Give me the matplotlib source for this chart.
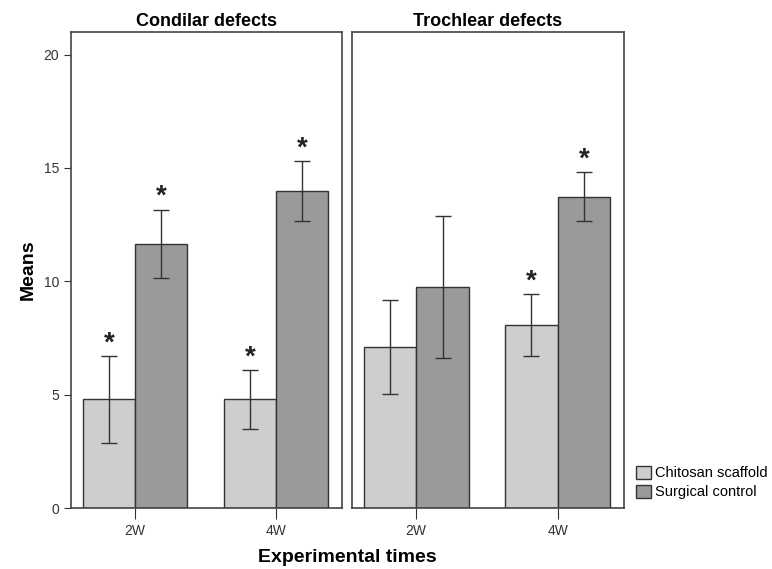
import matplotlib.pyplot as plt
import numpy as np

plt.rcParams['font.family'] = ['Liberation Sans', 'DejaVu Sans']

panels = ["Condilar defects", "Trochlear defects"]
times = ["2W", "4W"]
groups = ["Chitosan scaffold", "Surgical control"]

# means[panel][group][time]
means = [
    [[4.8, 4.8], [11.66, 14.0]],
    [[7.1, 8.08], [9.77, 13.73]],
]
err_low = [
    [[2.87, 3.49], [10.16, 12.67]],
    [[5.03, 6.71], [6.62, 12.67]],
]
err_high = [
    [[6.71, 6.09], [13.16, 15.32]],
    [[9.18, 9.45], [12.9, 14.83]],
]
# significance flags
stars = [
    [[True, True], [True, True]],
    [[False, True], [False, True]],
]

colors = ["#cecece", "#9a9a9a"]
edge = "#333333"

fig = plt.figure(figsize=(7.72, 5.69), dpi=100)
ax1 = fig.add_axes([0.092, 0.107, 0.351, 0.837])
ax2 = fig.add_axes([0.456, 0.107, 0.352, 0.837])

x = np.arange(len(times))
w = 0.372

for p, ax in enumerate([ax1, ax2]):
    for g in range(2):
        pos = x + (g - 0.5) * w
        m = np.array(means[p][g])
        lo = m - np.array(err_low[p][g])
        hi = np.array(err_high[p][g]) - m
        ax.bar(pos, m, width=w, color=colors[g], edgecolor=edge,
               linewidth=1.0, label=groups[g], zorder=2)
        ax.errorbar(pos, m, yerr=[lo, hi], fmt='none', ecolor=edge,
                    elinewidth=1.0, capsize=6, capthick=1.0, zorder=3)
        for i in range(len(times)):
            if stars[p][g][i]:
                ax.text(pos[i], err_high[p][g][i] - 0.02, "*", ha='center',
                        va='bottom', fontsize=20, fontweight='bold',
                        color='#222222')
    ax.set_xlim(-0.454, 1.468)
    ax.set_ylim(0, 21)
    ax.set_xticks(x)
    ax.set_xticklabels(times, fontsize=10, color='#333333')
    ax.tick_params(axis='x', length=8, color='#333333', direction='out')
    ax.set_title(panels[p], fontsize=13, fontweight='bold', pad=4)
    for s in ax.spines.values():
        s.set_color('#444444')
        s.set_linewidth(1.2)

ax1.set_yticks([0, 5, 10, 15, 20])
ax1.tick_params(axis='y', labelsize=10, length=5, color='#333333',
                labelcolor='#333333')
ax2.set_yticks([])
ax1.set_ylabel("Means", fontsize=14, fontweight='bold', labelpad=5)
fig.text(0.45, 0.02, "Experimental times", ha='center', va='center',
         fontsize=14, fontweight='bold')

handles, labels = ax1.get_legend_handles_labels()
fig.legend(handles, labels, loc='lower left', bbox_to_anchor=(0.815, 0.11),
           frameon=False, fontsize=10.5, handlelength=1.0, handleheight=1.0,
           handletextpad=0.3, labelspacing=0.3, borderpad=0)

fig.savefig("out.png", dpi=100)
